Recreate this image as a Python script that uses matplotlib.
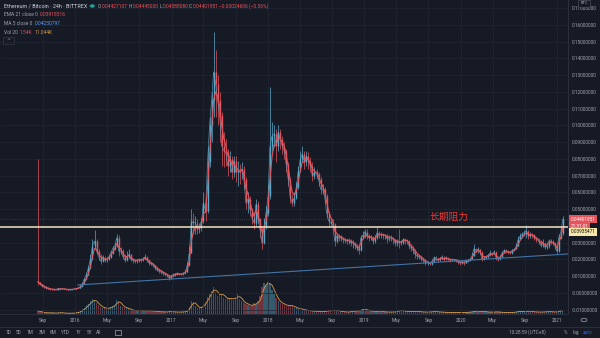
import matplotlib
matplotlib.use("Agg")
import matplotlib.pyplot as plt
import matplotlib.dates as mdates
from matplotlib.patches import Rectangle, Circle
from matplotlib.lines import Line2D
import pandas as pd

#Chart colours
bg = "#161a25"
grid_c = "#222633"
axis_c = "#2f3341"
text_c = "#a3a6af"
up_c = "#5aa9c8"
down_c = "#e5535b"
vol_ma_c = "#d89a4c"
FONT = ["Roboto", "DejaVu Sans"]

#Weekly ETH/BTC candles, four weeks per month (Aug 2015 and Jan 2021 partial)
close = [
    0.0066, 0.0052,
    0.0042, 0.0036, 0.0030, 0.0025,
    0.0022, 0.0021, 0.0020, 0.0019,
    0.0027, 0.0024, 0.0025, 0.0024,
    0.0021, 0.0020, 0.0021, 0.0022,
    0.0024, 0.0028, 0.0030, 0.0040,
    0.0058, 0.0085, 0.0110, 0.0150,
    0.0200, 0.0280, 0.0310, 0.0250,
    0.0220, 0.0190, 0.0210, 0.0195,
    0.0200, 0.0215, 0.0240, 0.0265,
    0.0280, 0.0330, 0.0250, 0.0250,
    0.0220, 0.0195, 0.0215, 0.0230,
    0.0200, 0.0195, 0.0190, 0.0195,
    0.0200, 0.0195, 0.0205, 0.0215,
    0.0195, 0.0180, 0.0175, 0.0165,
    0.0150, 0.0140, 0.0130, 0.0125,
    0.0118, 0.0112, 0.0105, 0.0090,
    0.0100, 0.0107, 0.0115, 0.0118,
    0.0112, 0.0113, 0.0118, 0.0128,
    0.0165, 0.0240, 0.0430, 0.0420,
    0.0420, 0.0380, 0.0390, 0.0430,
    0.0540, 0.0490, 0.0780, 0.1000,
    0.1150, 0.1320, 0.1250, 0.1150,
    0.1060, 0.0880, 0.0850, 0.0840,
    0.0760, 0.0800, 0.0720, 0.0790,
    0.0720, 0.0730, 0.0720, 0.0740,
    0.0680, 0.0540, 0.0560, 0.0500,
    0.0450, 0.0420, 0.0530, 0.0440,
    0.0380, 0.0300, 0.0400, 0.0480,
    0.0580, 0.0880, 0.0940, 0.0950,
    0.0880, 0.0960, 0.0920, 0.0880,
    0.0850, 0.0770, 0.0680, 0.0570,
    0.0540, 0.0570, 0.0630, 0.0730,
    0.0800, 0.0830, 0.0780, 0.0820,
    0.0790, 0.0760, 0.0700, 0.0720,
    0.0710, 0.0680, 0.0620, 0.0620,
    0.0580, 0.0480, 0.0430, 0.0420,
    0.0410, 0.0310, 0.0340, 0.0330,
    0.0330, 0.0320, 0.0315, 0.0310,
    0.0315, 0.0300, 0.0300, 0.0285,
    0.0270, 0.0255, 0.0330, 0.0345,
    0.0365, 0.0340, 0.0330, 0.0335,
    0.0310, 0.0330, 0.0360, 0.0350,
    0.0350, 0.0345, 0.0345, 0.0325,
    0.0330, 0.0330, 0.0320, 0.0300,
    0.0310, 0.0300, 0.0300, 0.0320,
    0.0315, 0.0310, 0.0280, 0.0270,
    0.0255, 0.0230, 0.0220, 0.0215,
    0.0205, 0.0195, 0.0180, 0.0180,
    0.0175, 0.0185, 0.0210, 0.0210,
    0.0195, 0.0205, 0.0215, 0.0200,
    0.0210, 0.0205, 0.0195, 0.0200,
    0.0200, 0.0195, 0.0185, 0.0180,
    0.0185, 0.0180, 0.0190, 0.0195,
    0.0200, 0.0220, 0.0265, 0.0255,
    0.0260, 0.0245, 0.0200, 0.0210,
    0.0215, 0.0225, 0.0240, 0.0230,
    0.0245, 0.0210, 0.0200, 0.0215,
    0.0240, 0.0255, 0.0250, 0.0245,
    0.0240, 0.0255, 0.0260, 0.0280,
    0.0320, 0.0340, 0.0350, 0.0360,
    0.0370, 0.0340, 0.0350, 0.0345,
    0.0330, 0.0320, 0.0310, 0.0285,
    0.0300, 0.0275, 0.0280, 0.0310,
    0.0310, 0.0300, 0.0285, 0.0250,
    0.0330, 0.0360, 0.0440,
]

high = [
    0.0800, 0.0068,
    0.0056, 0.0044, 0.0038, 0.0031,
    0.0026, 0.0024, 0.0023, 0.0022,
    0.0031, 0.0030, 0.0027, 0.0027,
    0.0025, 0.0023, 0.0023, 0.0024,
    0.0026, 0.0030, 0.0033, 0.0046,
    0.0062, 0.0092, 0.0125, 0.0170,
    0.0235, 0.0320, 0.0376, 0.0320,
    0.0265, 0.0230, 0.0225, 0.0220,
    0.0215, 0.0225, 0.0250, 0.0280,
    0.0300, 0.0355, 0.0345, 0.0275,
    0.0260, 0.0230, 0.0250, 0.0260,
    0.0235, 0.0210, 0.0200, 0.0205,
    0.0210, 0.0210, 0.0215, 0.0230,
    0.0220, 0.0200, 0.0185, 0.0180,
    0.0170, 0.0155, 0.0142, 0.0135,
    0.0128, 0.0122, 0.0115, 0.0108,
    0.0112, 0.0120, 0.0122, 0.0125,
    0.0122, 0.0120, 0.0125, 0.0135,
    0.0185, 0.0280, 0.0500, 0.0480,
    0.0460, 0.0440, 0.0420, 0.0450,
    0.0600, 0.0560, 0.0880, 0.1050,
    0.1200, 0.1560, 0.1450, 0.1300,
    0.1200, 0.1080, 0.0960, 0.0920,
    0.0860, 0.0850, 0.0820, 0.0820,
    0.0820, 0.0790, 0.0770, 0.0780,
    0.0760, 0.0690, 0.0600, 0.0580,
    0.0510, 0.0470, 0.0560, 0.0550,
    0.0450, 0.0400, 0.0450, 0.0520,
    0.0650, 0.1230, 0.1020, 0.1000,
    0.0980, 0.1000, 0.0980, 0.0940,
    0.0900, 0.0860, 0.0780, 0.0690,
    0.0590, 0.0600, 0.0660, 0.0760,
    0.0850, 0.0880, 0.0850, 0.0850,
    0.0840, 0.0810, 0.0780, 0.0750,
    0.0740, 0.0720, 0.0690, 0.0650,
    0.0630, 0.0590, 0.0490, 0.0450,
    0.0440, 0.0420, 0.0360, 0.0350,
    0.0345, 0.0335, 0.0330, 0.0320,
    0.0330, 0.0320, 0.0315, 0.0305,
    0.0290, 0.0280, 0.0345, 0.0370,
    0.0380, 0.0380, 0.0350, 0.0345,
    0.0340, 0.0345, 0.0395, 0.0370,
    0.0365, 0.0360, 0.0355, 0.0350,
    0.0345, 0.0345, 0.0335, 0.0325,
    0.0320, 0.0380, 0.0315, 0.0330,
    0.0330, 0.0325, 0.0315, 0.0290,
    0.0280, 0.0260, 0.0235, 0.0225,
    0.0220, 0.0210, 0.0200, 0.0190,
    0.0185, 0.0195, 0.0220, 0.0220,
    0.0210, 0.0215, 0.0225, 0.0220,
    0.0220, 0.0215, 0.0210, 0.0205,
    0.0205, 0.0205, 0.0200, 0.0190,
    0.0195, 0.0190, 0.0200, 0.0205,
    0.0210, 0.0240, 0.0290, 0.0270,
    0.0275, 0.0265, 0.0250, 0.0220,
    0.0225, 0.0235, 0.0255, 0.0245,
    0.0255, 0.0250, 0.0215, 0.0225,
    0.0250, 0.0265, 0.0260, 0.0255,
    0.0250, 0.0260, 0.0270, 0.0300,
    0.0340, 0.0360, 0.0365, 0.0375,
    0.0405, 0.0375, 0.0365, 0.0360,
    0.0355, 0.0335, 0.0325, 0.0315,
    0.0320, 0.0305, 0.0295, 0.0325,
    0.0325, 0.0315, 0.0305, 0.0290,
    0.0350, 0.0395, 0.0460,
]

low = [
    0.0050, 0.0048,
    0.0038, 0.0032, 0.0026, 0.0022,
    0.0019, 0.0018, 0.0017, 0.0017,
    0.0019, 0.0022, 0.0022, 0.0022,
    0.0019, 0.0018, 0.0019, 0.0020,
    0.0021, 0.0023, 0.0027, 0.0029,
    0.0038, 0.0055, 0.0080, 0.0105,
    0.0145, 0.0195, 0.0260, 0.0230,
    0.0195, 0.0175, 0.0185, 0.0185,
    0.0185, 0.0195, 0.0210, 0.0235,
    0.0255, 0.0275, 0.0220, 0.0230,
    0.0200, 0.0185, 0.0190, 0.0210,
    0.0190, 0.0180, 0.0180, 0.0180,
    0.0185, 0.0185, 0.0190, 0.0200,
    0.0185, 0.0170, 0.0165, 0.0155,
    0.0140, 0.0130, 0.0120, 0.0115,
    0.0105, 0.0100, 0.0095, 0.0080,
    0.0085, 0.0098, 0.0104, 0.0108,
    0.0105, 0.0106, 0.0110, 0.0115,
    0.0125, 0.0160, 0.0240, 0.0350,
    0.0350, 0.0350, 0.0360, 0.0370,
    0.0420, 0.0430, 0.0480, 0.0750,
    0.0900, 0.1050, 0.1050, 0.1000,
    0.0900, 0.0760, 0.0750, 0.0760,
    0.0700, 0.0720, 0.0680, 0.0690,
    0.0660, 0.0640, 0.0650, 0.0680,
    0.0620, 0.0500, 0.0480, 0.0460,
    0.0410, 0.0380, 0.0400, 0.0420,
    0.0330, 0.0260, 0.0290, 0.0380,
    0.0460, 0.0560, 0.0850, 0.0870,
    0.0780, 0.0850, 0.0860, 0.0830,
    0.0800, 0.0720, 0.0640, 0.0540,
    0.0520, 0.0520, 0.0560, 0.0620,
    0.0720, 0.0780, 0.0740, 0.0760,
    0.0740, 0.0720, 0.0670, 0.0680,
    0.0680, 0.0640, 0.0590, 0.0590,
    0.0540, 0.0450, 0.0400, 0.0395,
    0.0380, 0.0280, 0.0300, 0.0310,
    0.0310, 0.0300, 0.0300, 0.0295,
    0.0290, 0.0280, 0.0270, 0.0260,
    0.0250, 0.0235, 0.0250, 0.0320,
    0.0330, 0.0320, 0.0310, 0.0315,
    0.0295, 0.0300, 0.0320, 0.0330,
    0.0330, 0.0325, 0.0320, 0.0300,
    0.0310, 0.0310, 0.0290, 0.0280,
    0.0280, 0.0270, 0.0285, 0.0290,
    0.0295, 0.0290, 0.0260, 0.0250,
    0.0230, 0.0210, 0.0205, 0.0200,
    0.0190, 0.0180, 0.0170, 0.0170,
    0.0165, 0.0170, 0.0185, 0.0195,
    0.0185, 0.0190, 0.0200, 0.0190,
    0.0195, 0.0195, 0.0185, 0.0190,
    0.0190, 0.0185, 0.0175, 0.0170,
    0.0175, 0.0170, 0.0178, 0.0185,
    0.0190, 0.0200, 0.0230, 0.0240,
    0.0240, 0.0230, 0.0190, 0.0195,
    0.0200, 0.0210, 0.0220, 0.0220,
    0.0230, 0.0195, 0.0190, 0.0195,
    0.0230, 0.0240, 0.0240, 0.0235,
    0.0230, 0.0235, 0.0250, 0.0260,
    0.0280, 0.0315, 0.0330, 0.0340,
    0.0330, 0.0320, 0.0330, 0.0330,
    0.0315, 0.0305, 0.0295, 0.0275,
    0.0275, 0.0265, 0.0260, 0.0270,
    0.0295, 0.0285, 0.0265, 0.0235,
    0.0245, 0.0320, 0.0345,
]

#Average daily volume for each week (K ETH)
volume = [
    8, 5,
    4, 3, 3, 3,
    3, 3, 2, 2,
    4, 3, 3, 2,
    2, 2, 2, 2,
    3, 4, 4, 8,
    12, 16, 22, 26,
    32, 38, 34, 28,
    22, 18, 16, 15,
    14, 15, 18, 20,
    24, 36, 32, 20,
    18, 16, 15, 12,
    10, 9, 8, 9,
    9, 8, 9, 8,
    8, 9, 8, 7,
    7, 6, 6, 5,
    6, 5, 5, 7,
    6, 5, 5, 5,
    5, 5, 6, 6,
    10, 18, 34, 30,
    20, 16, 15, 18,
    26, 30, 44, 52,
    58, 70, 55, 46,
    50, 54, 42, 38,
    38, 42, 38, 36,
    44, 50, 38, 32,
    28, 26, 24, 20,
    22, 28, 26, 32,
    46, 68, 80, 74,
    82, 76, 62, 50,
    40, 32, 28, 26,
    24, 20, 22, 22,
    20, 16, 15, 14,
    13, 11, 10, 9,
    8, 8, 7, 7,
    7, 6, 6, 6,
    7, 8, 9, 8,
    8, 11, 8, 7,
    6, 6, 5, 5,
    5, 7, 8, 7,
    8, 9, 11, 13,
    11, 9, 8, 7,
    7, 6, 8, 7,
    6, 6, 5, 5,
    5, 5, 5, 6,
    7, 11, 8, 7,
    7, 6, 6, 7,
    7, 7, 6, 6,
    5, 5, 5, 5,
    6, 5, 7, 6,
    5, 5, 5, 4,
    4, 4, 4, 4,
    4, 4, 4, 4,
    4, 4, 4, 5,
    5, 6, 8, 7,
    6, 6, 8, 6,
    5, 5, 5, 5,
    5, 6, 5, 4,
    4, 4, 4, 4,
    4, 4, 5, 6,
    7, 6, 6, 6,
    8, 7, 6, 6,
    5, 5, 5, 5,
    5, 6, 6, 6,
    6, 5, 5, 6,
    8, 9, 8,
]

assert len(close) == len(high) == len(low) == len(volume)

dates = pd.date_range("2015-08-14", "2021-01-22", periods=len(close))
opens = [0.0070] + close[:-1]

#Axis ticks and labels
price_ticks = [-0.01, 0.0, 0.01, 0.02, 0.03, 0.04, 0.05, 0.06, 0.07, 0.08,
               0.09, 0.10, 0.11, 0.12, 0.13, 0.14, 0.15, 0.16, 0.17]
price_labels = ["-0.01000000", "-0.00000000", "0.01000000", "0.02000000",
                "0.03000000", "", "0.05000000", "0.06000000", "0.07000000",
                "0.08000000", "0.09000000", "0.10000000", "0.11000000",
                "0.12000000", "0.13000000", "0.14000000", "0.15000000",
                "0.16000000", "0.17000000"]
time_ticks = ["2015-09-01", "2016-01-01", "2016-05-01", "2016-09-01",
              "2017-01-01", "2017-05-01", "2017-09-01", "2018-01-01",
              "2018-05-01", "2018-09-01", "2019-01-01", "2019-05-01",
              "2019-09-01", "2020-01-01", "2020-05-01", "2020-09-01",
              "2021-01-01"]
time_labels = ["Sep", "2016", "May", "Sep", "2017", "May", "Sep", "2018",
               "May", "Sep", "2019", "May", "Sep", "2020", "May", "Sep", "2021"]

#Drawn levels
last_price = 0.04401951
resistance = 0.03935471
trend_dates = ["2016-01-12", "2021-02-11"]
trend_prices = [0.0048, 0.0233]

W, H = 600, 338
def fx(px):
    return px / W
def fy(px):
    return 1 - px / H

fig = plt.figure(figsize=(6, 3.38), dpi=100, facecolor=bg)
rect = [0, 24 / H, 568 / W, 314 / H]

#Volume pane sits behind the price axes
vax = fig.add_axes(rect, zorder=0)
vax.set_facecolor(bg)
ax = fig.add_axes(rect, zorder=1, sharex=vax)
ax.patch.set_visible(False)

vol_cols = [up_c if c >= o else down_c for o, c in zip(opens, close)]
vax.bar(dates, volume, width=5, color=vol_cols, alpha=0.45, linewidth=0)
vol_ma = pd.Series(volume).rolling(3, min_periods=1).mean()
vax.plot(dates, vol_ma, color=vol_ma_c, lw=0.6)
vax.set_ylim(0, 800)
vax.set_yticks([])
for s in vax.spines.values():
    s.set_visible(False)
vax.tick_params(bottom=False, labelbottom=False)

#Candles
cols = [up_c if c >= o else down_c for o, c in zip(opens, close)]
ax.vlines(dates, low, high, colors=cols, lw=0.5)
ax.vlines(dates, opens, close, colors=cols, lw=1.0)

ema = pd.Series(close).ewm(span=3).mean()
ax.plot(dates, close, color=up_c, lw=0.5, alpha=0.8)
ax.plot(dates, ema, color=down_c, lw=0.8)

#Trendline, resistance and last price
ax.plot(pd.to_datetime(trend_dates), trend_prices, color="#4274a6", lw=0.8)
ax.axhline(resistance, color="#f4e4c4", lw=1.1)
ax.axhline(last_price, color=down_c, lw=0.5, ls=(0, (1, 2)), alpha=0.6)
ax.text(pd.Timestamp("2019-11-20"), 0.0454, "长期阻力", color="#e53935",
        fontsize=7, ha="center", va="center",
        family=["Noto Sans CJK SC", "DejaVu Sans"])

ax.set_xlim(pd.Timestamp("2015-03-23"), pd.Timestamp("2021-02-11"))
ax.set_ylim(-0.01254, 0.1749)

ax.set_yticks(price_ticks)
ax.set_yticklabels(price_labels)
ax.yaxis.tick_right()
ax.set_xticks(pd.to_datetime(time_ticks))
ax.set_xticklabels(time_labels)
ax.tick_params(axis="both", length=0, labelsize=3.4, labelcolor=text_c, pad=3)
for lab in ax.get_xticklabels() + ax.get_yticklabels():
    lab.set_family(FONT)
ax.grid(True, color=grid_c, lw=0.5)
for side in ["top", "left"]:
    ax.spines[side].set_visible(False)
ax.spines["right"].set_color(axis_c)
ax.spines["bottom"].set_color(axis_c)
ax.spines["right"].set_linewidth(0.6)
ax.spines["bottom"].set_linewidth(0.6)

#Price tags on the right scale
def tag(price, txt, fc, tc, dy=0):
    ax.annotate(txt, xy=(1, price), xycoords=("axes fraction", "data"),
                xytext=(2, dy), textcoords="offset points", ha="left", va="center",
                fontsize=3.4, color=tc, family=FONT,
                bbox=dict(boxstyle="square,pad=0.35", fc=fc, ec="none"))

tag(last_price, "0.04401951", down_c, "white")
tag(last_price, "21:31:01", down_c, "white", dy=-5)
tag(resistance, "0.03935471", "#f6e7a6", "#131722", dy=-3.5)

#Legend header
renderer = fig.canvas.get_renderer()
def text_run(x_px, y_px, parts, size=3.6, gap=2):
    x = x_px
    for s, c in parts:
        t = fig.text(fx(x), fy(y_px), s, color=c, fontsize=size, ha="left",
                     va="center", family=FONT)
        x += t.get_window_extent(renderer).width + gap
    return x

end = text_run(4, 6, [("Ethereum / Bitcoin · 24h · BITTREX", "#d1d4dc")], size=3.9)
fig.add_artist(Circle((fx(end + 3), fy(6)), 0.004, transform=fig.transFigure,
                      color="#26a69a", alpha=0.35))
fig.add_artist(Circle((fx(end + 3), fy(6)), 0.0022, transform=fig.transFigure,
                      color="#26a69a"))
text_run(end + 9, 6, [("O", text_c), ("0.04427107", down_c), ("H", text_c),
                      ("0.04445000", down_c), ("L", text_c), ("0.04388080", down_c),
                      ("C", text_c), ("0.04401951", down_c),
                      ("−0.00024606 (−0.56%)", down_c)], size=3.5, gap=0.6)
text_run(4, 15, [("EMA 21 close 0", text_c), ("0.03918516", down_c)], size=3.5)
text_run(4, 23.5, [("MA 5 close 0", text_c), ("0.04230797", "#5b9cf6")], size=3.5)
text_run(4, 32, [("Vol 20", text_c), ("1.54K", down_c), ("11.044K", vol_ma_c)], size=3.5)
fig.add_artist(Rectangle((fx(3), fy(44)), 11 / W, 7 / H, transform=fig.transFigure,
                         fc=bg, ec="#363a45", lw=0.5))
fig.text(fx(8.5), fy(41), "^", color=text_c, fontsize=3.5, ha="center", va="center")

#Currency box and scale settings
fig.add_artist(Rectangle((fx(578), fy(6.5)), 12 / W, 6.5 / H, transform=fig.transFigure,
                         fc=bg, ec="#4a4e59", lw=0.5, zorder=5))
fig.text(fx(584), fy(3.2), "BTC", color=text_c, fontsize=2.8, ha="center",
         va="center", family=FONT, zorder=6)
fig.add_artist(Circle((fx(584), fy(320)), 0.005, transform=fig.transFigure,
                      fc="none", ec=text_c, lw=0.5))

#Bottom toolbar
fig.add_artist(Line2D([0, 1], [fy(327), fy(327)], transform=fig.transFigure,
                      color=axis_c, lw=0.6))
ranges = ["1D", "5D", "1M", "3M", "6M", "YTD", "1Y", "5Y", "All"]
range_x = [8, 19, 30, 42, 53, 65, 78, 89, 99]
for r, x in zip(ranges, range_x):
    fig.text(fx(x), fy(332.5), r, color=text_c, fontsize=3.4, ha="center",
             va="center", family=FONT)
fig.add_artist(Rectangle((fx(115), fy(335)), 6 / W, 5 / H, transform=fig.transFigure,
                         fc="none", ec=text_c, lw=0.5))
fig.text(fx(527), fy(332.5), "10:28:59 (UTC+8)", color=text_c, fontsize=3.4,
         ha="center", va="center", family=FONT)
fig.text(fx(566), fy(332.5), "%", color=text_c, fontsize=3.4, ha="center",
         va="center", family=FONT)
fig.text(fx(576), fy(332.5), "log", color=text_c, fontsize=3.4, ha="center",
         va="center", family=FONT)
fig.text(fx(588), fy(332.5), "auto", color="#2962ff", fontsize=3.4, ha="center",
         va="center", family=FONT)

fig.savefig("out.png", dpi=100, facecolor=bg)
